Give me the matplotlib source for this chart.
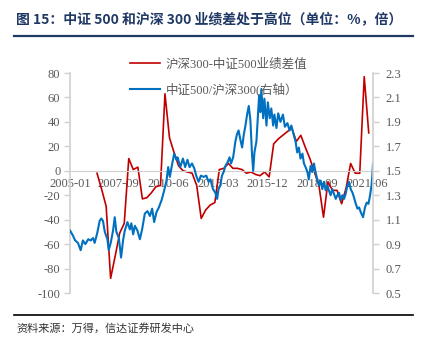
import pandas as pd
import matplotlib
matplotlib.use("Agg")
import matplotlib.pyplot as plt
from matplotlib.font_manager import FontProperties

plt.rcParams["axes.unicode_minus"] = False

# 沪深300-中证500 业绩差值（季度，%）
diff_dates = pd.date_range("2006-06-30", "2021-06-30", freq="QE")
diff_values = [-2, -15, -29, -88, -70, -51, -43, 10, 1, 3,
               -23, -22, -18, -13, -12, 63, 27, 15, 4, 0,
               -1, -2, -12, -39, -32, -28, -26, 1, 2, 6,
               2, 2, 1, -2, -1, -3, -4, -1, -5, 22,
               26, 29, 32, 35, 24, 29, 19, 10, -1, -12,
               -38, -9, -16, -16, -27, -14, 6, -2, -2, 77,
               31]

# 中证500/沪深300 比值（右轴，倍）
ratio_dates = [
    "2005-01-04", "2005-03-01", "2005-04-15", "2005-06-10", "2005-08-04", "2005-09-18",
    "2005-11-07", "2006-01-04", "2006-02-23", "2006-04-10", "2006-05-13", "2006-07-04",
    "2006-08-22", "2006-09-25", "2006-10-28", "2006-12-04", "2007-01-25", "2007-02-21",
    "2007-04-02", "2007-05-19", "2007-06-22", "2007-07-25", "2007-09-13", "2007-10-28",
    "2007-12-07", "2008-01-10", "2008-03-04", "2008-04-22", "2008-05-22", "2008-06-28",
    "2008-08-01", "2008-09-22", "2008-11-10", "2008-12-25", "2009-02-18", "2009-04-13",
    "2009-06-01", "2009-07-16", "2009-08-25", "2009-10-10", "2009-11-28", "2010-01-22",
    "2010-03-16", "2010-05-01", "2010-06-04", "2010-07-07", "2010-08-25", "2010-10-04",
    "2010-11-18", "2010-12-10", "2011-02-04", "2011-03-28", "2011-05-12", "2011-06-27",
    "2011-08-09", "2011-09-27", "2011-11-12", "2011-12-21", "2012-02-06", "2012-03-24",
    "2012-05-18", "2012-07-12", "2012-08-27", "2012-10-01", "2012-11-24", "2013-01-09",
    "2013-02-15", "2013-03-15", "2013-04-21", "2013-05-23", "2013-06-26", "2013-08-01",
    "2013-09-15", "2013-10-23", "2013-11-23", "2014-01-04", "2014-02-18", "2014-03-23",
    "2014-04-23", "2014-06-01", "2014-07-04", "2014-08-04", "2014-09-09", "2014-10-12",
    "2014-11-15", "2014-12-18", "2015-01-20", "2015-02-12", "2015-03-09", "2015-04-18",
    "2015-05-15", "2015-06-12", "2015-07-07", "2015-07-27", "2015-09-01", "2015-09-26",
    "2015-11-07", "2015-12-04", "2016-01-12", "2016-02-12", "2016-03-21", "2016-04-15",
    "2016-05-26", "2016-07-01", "2016-08-15", "2016-10-04", "2016-11-12", "2017-01-02",
    "2017-02-15", "2017-03-23", "2017-05-12", "2017-06-15", "2017-07-18", "2017-08-21",
    "2017-09-23", "2017-11-01", "2017-12-01", "2018-01-04", "2018-02-09", "2018-03-09",
    "2018-04-15", "2018-05-18", "2018-06-21", "2018-07-23", "2018-08-26", "2018-10-01",
    "2018-11-04", "2018-12-07", "2019-01-09", "2019-02-12", "2019-03-18", "2019-04-18",
    "2019-05-23", "2019-06-26", "2019-08-01", "2019-09-04", "2019-10-07", "2019-11-09",
    "2019-12-12", "2020-01-15", "2020-02-18", "2020-03-21", "2020-04-26", "2020-05-26",
    "2020-07-01", "2020-08-07", "2020-09-07", "2020-10-12", "2020-11-15", "2020-12-18",
    "2021-01-21", "2021-03-07", "2021-04-15", "2021-05-21", "2021-06-25", "2021-07-27",
    "2021-08-25", "2021-09-10", "2021-09-24",
]
ratio_values = [
    1.01, 0.97, 0.93, 0.91, 0.85, 0.93, 0.90, 0.94, 0.93, 0.95, 0.91, 0.99,
    1.09, 1.11, 1.09, 1.00, 0.94, 0.85, 0.91, 1.01, 1.12, 1.00, 0.95, 0.79,
    0.93, 1.01, 1.08, 1.02, 1.07, 0.98, 1.05, 1.01, 0.94, 1.02, 1.15, 1.17,
    1.13, 1.19, 1.08, 1.16, 1.20, 1.26, 1.34, 1.42, 1.53, 1.45, 1.56, 1.64,
    1.59, 1.61, 1.53, 1.60, 1.53, 1.59, 1.53, 1.56, 1.52, 1.46, 1.41, 1.46,
    1.45, 1.46, 1.41, 1.43, 1.35, 1.32, 1.27, 1.35, 1.38, 1.46, 1.49, 1.54,
    1.57, 1.61, 1.56, 1.61, 1.74, 1.80, 1.83, 1.75, 1.69, 1.79, 1.87, 1.96,
    2.03, 1.91, 1.63, 1.50, 1.65, 1.74, 1.93, 2.12, 1.98, 2.17, 1.93, 2.09,
    1.87, 2.06, 1.93, 2.01, 1.87, 1.96, 1.85, 1.97, 1.90, 1.96, 1.86, 1.89,
    1.83, 1.87, 1.79, 1.74, 1.65, 1.69, 1.60, 1.64, 1.56, 1.53, 1.49, 1.43,
    1.54, 1.49, 1.56, 1.49, 1.43, 1.38, 1.42, 1.35, 1.41, 1.34, 1.38, 1.34,
    1.30, 1.35, 1.31, 1.27, 1.30, 1.32, 1.26, 1.30, 1.27, 1.31, 1.38, 1.41,
    1.35, 1.32, 1.28, 1.23, 1.19, 1.20, 1.16, 1.12, 1.20, 1.24, 1.23, 1.30,
    1.38, 1.46, 1.56,
]

x_labels = ["2005-01", "2007-09", "2010-06", "2013-03", "2015-12", "2018-09", "2021-06"]
left_ticks = list(range(-100, 81, 20))
right_ticks = [0.5, 0.7, 0.9, 1.1, 1.3, 1.5, 1.7, 1.9, 2.1, 2.3]

RED = "#C00000"
BLUE = "#0070C0"
GREY_TXT = "#595959"
GREY_AX = "#D0D0D0"
NAVY = "#1F3864"

serif_cjk = ["Liberation Serif", "Noto Sans CJK SC"]
tick_font = FontProperties(family=serif_cjk, size=9)

W, H = 436, 347
fig = plt.figure(figsize=(W / 100, H / 100), dpi=100)

# 标题和上下分隔线
fig.text(16 / W, 1 - 20 / H, "图 15：中证 500 和沪深 300 业绩差处于高位（单位：%，倍）",
         family=["Noto Sans CJK SC", "DejaVu Sans"], fontsize=10, fontweight="bold",
         color=NAVY, ha="left", va="center")
fig.add_artist(plt.Line2D([14 / W, 413 / W], [1 - 36 / H, 1 - 36 / H],
                          color=NAVY, lw=1.6))
fig.add_artist(plt.Line2D([14 / W, 413 / W], [1 - 315 / H, 1 - 315 / H],
                          color="black", lw=1.2))
fig.text(16 / W, 1 - 328 / H, "资料来源：万得，信达证券研发中心",
         family=["Noto Sans CJK SC", "DejaVu Sans"], fontsize=8, style="italic",
         fontweight="light", color="#333333", ha="left", va="center")

ax = fig.add_axes([70 / W, 1 - 293 / H, 303 / W, 220 / H])
ax2 = ax.twinx()

d_ratio = pd.to_datetime(ratio_dates)
l1, = ax.plot(diff_dates, diff_values, color=RED, lw=1.2,
              label="沪深300-中证500业绩差值")
l2, = ax2.plot(d_ratio, ratio_values, color=BLUE, lw=1.5,
               label="中证500/沪深300(右轴）")

ax.set_xlim(pd.Timestamp("2005-01-01"), d_ratio[-1])
ax.set_ylim(-100, 80)
ax2.set_ylim(0.5, 2.3)
ax.set_yticks(left_ticks)
ax2.set_yticks(right_ticks)
ax2.set_yticklabels([f"{v:.1f}" for v in right_ticks])

# 横轴放在 0 处
ax.spines["bottom"].set_position(("data", 0))
ax.spines["bottom"].set_color(GREY_AX)
ax.spines["bottom"].set_linewidth(0.8)
ax.spines["top"].set_visible(False)
ax.spines["right"].set_visible(False)
ax.spines["left"].set_color(GREY_AX)
ax.spines["left"].set_linewidth(1.2)
for s in ["top", "bottom", "left"]:
    ax2.spines[s].set_visible(False)
ax2.spines["right"].set_color(GREY_AX)
ax2.spines["right"].set_linewidth(1.2)

x_ticks = pd.to_datetime([s + "-01" for s in x_labels])
x_ticks = [max(t, pd.Timestamp("2005-01-01")) for t in x_ticks]
ax.set_xticks(x_ticks)
ax.set_xticklabels(x_labels)
ax.tick_params(axis="x", length=0, pad=5, colors=GREY_TXT)
ax.tick_params(axis="y", length=4, width=1, color=GREY_AX, pad=3, colors=GREY_TXT)
ax2.tick_params(axis="y", length=4, width=1, color=GREY_AX, pad=5, colors=GREY_TXT)
for lab in ax.get_xticklabels() + ax.get_yticklabels() + ax2.get_yticklabels():
    lab.set_fontproperties(tick_font)
    lab.set_color(GREY_TXT)
ax.set_facecolor("none")

leg = ax2.legend([l1, l2], [l1.get_label(), l2.get_label()],
                 loc="upper left", bbox_to_anchor=(130 / W, 1 - 58 / H),
                 bbox_transform=fig.transFigure, frameon=False,
                 prop=FontProperties(family=serif_cjk, size=9),
                 handlelength=2.4, handletextpad=0.45, labelspacing=0.95,
                 borderpad=0, borderaxespad=0)
for t in leg.get_texts():
    t.set_color(GREY_TXT)

fig.savefig("out.png", dpi=100)
